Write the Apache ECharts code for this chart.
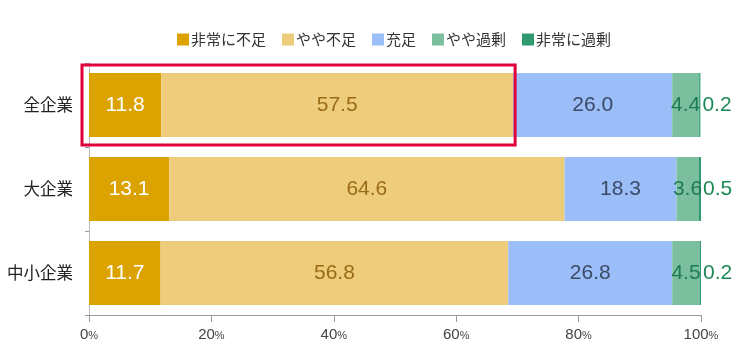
<!DOCTYPE html>
<html><head><meta charset="utf-8">
<script src="https://cdn.jsdelivr.net/npm/echarts@6/dist/echarts.min.js"></script>
<style>html,body{margin:0;padding:0;background:#fff}#c{width:742px;height:360px}</style>
</head><body><div id="c"></div>
<script>
var categories = ['全企業', '大企業', '中小企業'];
var seriesNames = ['非常に不足', 'やや不足', '充足', 'やや過剰', '非常に過剰'];
var verySho = [11.8, 13.1, 11.7];
var someSho = [57.5, 64.6, 56.8];
var enough = [26.0, 18.3, 26.8];
var someExc = [4.4, 3.6, 4.5];
var veryExc = [0.2, 0.5, 0.2];
var xTicks = [0, 20, 40, 60, 80, 100];

var colors = ['#dca300', '#edcd7c', '#9bbdf8', '#7cbf9f', '#2e9a6e'];
var labelColors = ['#ffffff', '#9a6b16', '#3b4a66', '#1f7a58', '#1a8a55'];
var dataSets = [verySho, someSho, enough, someExc, veryExc];
var FONT = '"Noto Sans CJK JP", "Noto Sans", sans-serif';
var NUMFONT = '"Liberation Sans", Arial, sans-serif';

var chart = echarts.init(document.getElementById('c'), null, {renderer: 'canvas'});
var series = dataSets.map(function (d, i) {
  return {
    name: seriesNames[i], type: 'bar', stack: 'total', data: d,
    barCategoryGap: '24%',
    itemStyle: {color: colors[i]},
    label: {
      show: true, position: i === 4 ? 'right' : 'inside', distance: 2,
      color: labelColors[i], fontSize: 21, fontFamily: NUMFONT,
      formatter: function (p) { return p.value.toFixed(1); }
    }
  };
});
chart.setOption({
  animation: false,
  textStyle: {fontFamily: FONT},
  legend: {
    top: 27, left: 172, itemWidth: 12, itemHeight: 12, itemGap: 16,
    icon: 'rect', data: seriesNames,
    textStyle: {fontSize: 15, color: '#333', fontFamily: FONT, padding: [0, 0, 0, -3]}
  },
  grid: {left: 89, right: 41, top: 63, bottom: 45, containLabel: false},
  xAxis: {
    type: 'value', min: 0, max: 100, interval: 20,
    axisLine: {show: true, lineStyle: {color: '#999'}},
    axisTick: {show: true, length: 7, lineStyle: {color: '#999'}},
    splitLine: {show: false},
    axisLabel: {
      margin: 12,
      formatter: function (v) { return xTicks.indexOf(v) >= 0 ? '{n|' + v + '}{p|%}' : ''; },
      rich: {n: {fontSize: 15, color: '#444', fontFamily: NUMFONT},
             p: {fontSize: 11, color: '#444', fontFamily: NUMFONT, padding: [3, 0, 0, 0]}}
    }
  },
  yAxis: {
    type: 'category', data: categories, inverse: true,
    axisLine: {show: true, lineStyle: {color: '#bbb'}},
    axisTick: {show: true, length: 4, lineStyle: {color: '#999'}},
    axisLabel: {fontSize: 16.5, color: '#222', margin: 16, fontFamily: FONT}
  },
  series: series
});

// highlight rectangle around the first two segments of the first row
var p0 = chart.convertToPixel({xAxisIndex: 0, yAxisIndex: 0}, [0, 0]);
var p1 = chart.convertToPixel({xAxisIndex: 0, yAxisIndex: 0}, [verySho[0] + someSho[0], 0]);
var band = chart.convertToPixel({yAxisIndex: 0}, 1) - chart.convertToPixel({yAxisIndex: 0}, 0);
var half = band * 0.76 / 2 + 8;
chart.setOption({
  graphic: [{
    type: 'rect', z: 100,
    shape: {x: p0[0] - 7, y: p0[1] - half, width: p1[0] - p0[0] + 9, height: half * 2},
    style: {fill: 'none', stroke: '#e0003c', lineWidth: 3}
  }]
});
</script></body></html>
